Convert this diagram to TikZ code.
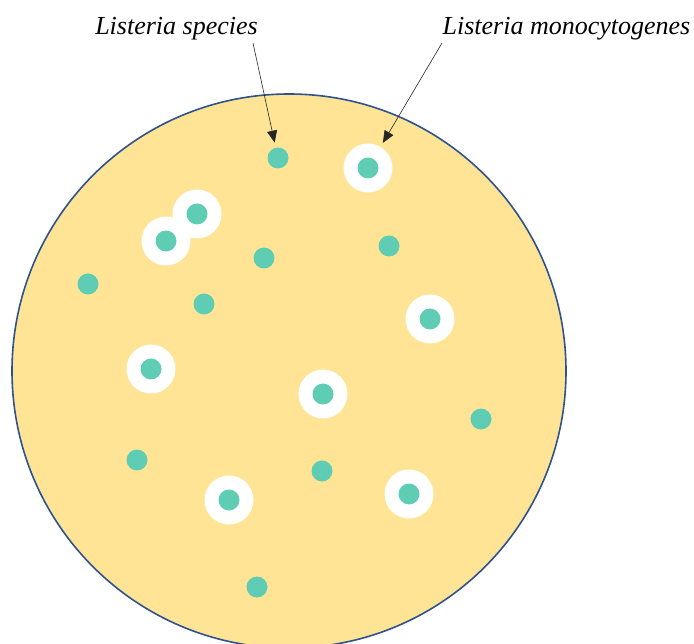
\documentclass[tikz,border=0pt]{standalone}
\usepackage{fontspec}
\setmainfont{Liberation Serif}
\usetikzlibrary{arrows.meta, positioning, calc}
\definecolor{agar}{RGB}{254,228,148}
\definecolor{rim}{RGB}{47,82,143}
\definecolor{colony}{RGB}{95,205,180}
\begin{document}
\begin{tikzpicture}[x=1pt, y=-1pt, >={Triangle[length=12pt,width=10pt]},
   lbl/.style={font=\fontsize{26}{30}\selectfont\itshape, inner sep=0pt, anchor=base},
   spp/.style={circle, fill=colony, minimum size=21pt, inner sep=0pt},
   halo/.style={circle, fill=white, minimum size=49pt, inner sep=0pt},
   arr/.style={->, line width=0.6pt, black!85}]
\useasboundingbox (0,0) rectangle (694,644);
% plate
\node[circle, draw=rim, fill=agar, line width=1.6pt, minimum size=554pt, inner sep=0pt] (plate) at (289,371) {};
% Listeria monocytogenes: white halo round the colony
\foreach \x/\y [count=\i] in {368/168, 197/214, 166/241, 430/319, 151/369, 323/394, 229/500, 409/494}
   \node[halo] (lm\i) at (\x,\y) {};
\foreach \x/\y [count=\i] in {368/168, 197/214, 166/241, 430/319, 151/369, 323/394, 229/500, 409/494}
   \node[spp] (lmc\i) at (\x,\y) {};
% other Listeria species
\foreach \x/\y [count=\i] in {278/158, 264/258, 389/246, 88/284, 204/304, 481/419, 137/460, 322/471, 257/587}
   \node[spp] (sp\i) at (\x,\y) {};
% labels
\node[lbl] (spc) at (176.5,35) {Listeria species};
\node[lbl] (lmo) at (566.5,35) {Listeria monocytogenes};
\coordinate (spcA) at (253,43);
\coordinate (lmoA) at (442,43);
\draw[arr, shorten >=5pt] (spcA) -- (sp1);
\draw[arr, shorten >=4.5pt] (lmoA) -- (lm1);
\end{tikzpicture}
\end{document}
